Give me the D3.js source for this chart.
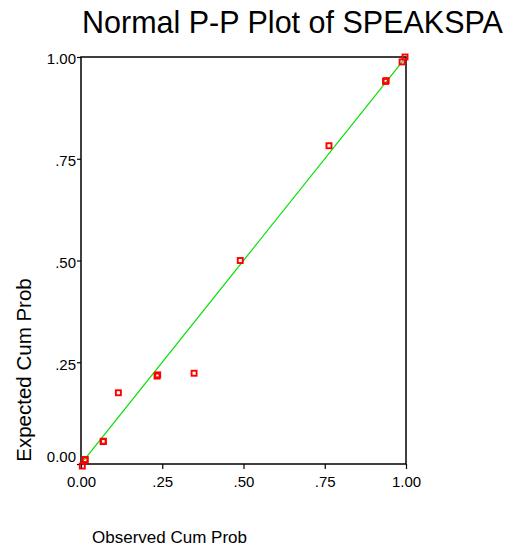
<!DOCTYPE html>
<html>
<head>
<meta charset="utf-8">
<script src="https://cdn.jsdelivr.net/npm/d3@7"></script>
<style>
  body { margin: 0; background: #fff; }
  svg { display: block; font-family: "Liberation Sans", Arial, sans-serif; }
</style>
</head>
<body>
<div id="plot"></div>
<script>
// data
const observed = [0.004, 0.012, 0.013, 0.068, 0.069, 0.115, 0.234, 0.236, 0.348, 0.490, 0.763, 0.937, 0.939, 0.988, 0.997];
const expected = [-0.005, 0.010, 0.011, 0.055, 0.056, 0.175, 0.216, 0.219, 0.223, 0.500, 0.782, 0.940, 0.942, 0.988, 1.000];
const tickValues = [0, 0.25, 0.5, 0.75, 1];
const tickLabels = ["0.00", ".25", ".50", ".75", "1.00"];
const refLine = [0.01, 0.99];

const w = 508;
const h = 548;
const margin = {top: 57, right: 102, bottom: 84, left: 81};
const innerWidth = w - margin.left - margin.right;
const innerHeight = h - margin.top - margin.bottom;

const svg = d3.select("div#plot")
    .append("svg")
    .attr("width", w)
    .attr("height", h);

const xScale = d3.scaleLinear()
    .domain([0, 1])
    .range([0, innerWidth]);

const yScale = d3.scaleLinear()
    .domain([0, 1])
    .range([innerHeight, 0]);

const g = svg.append("g")
    .attr("transform", `translate(${margin.left}, ${margin.top})`);

// frame
g.append("rect")
    .attr("width", innerWidth)
    .attr("height", innerHeight)
    .attr("fill", "none")
    .attr("stroke", "#000")
    .attr("stroke-width", 1.5);

const xAxis = d3.axisBottom(xScale)
    .tickValues(tickValues)
    .tickSize(5)
    .tickPadding(7)
    .tickFormat((d, i) => tickLabels[i]);

const yAxis = d3.axisLeft(yScale)
    .tickValues(tickValues)
    .tickSize(4)
    .tickPadding(1)
    .tickFormat((d, i) => tickLabels[i]);

const gx = g.append("g")
    .attr("transform", `translate(0, ${innerHeight})`)
    .call(xAxis);

const gy = g.append("g")
    .call(yAxis);

[gx, gy].forEach(ax => {
  ax.select(".domain").remove();
  ax.selectAll(".tick line").attr("stroke", "#000").attr("stroke-width", 1.2);
  ax.selectAll(".tick text")
      .attr("fill", "#000")
      .style("font-size", "15px")
      .style("font-family", "'Liberation Sans', Arial, sans-serif");
});

gy.selectAll(".tick text")
    .attr("dy", (d) => d === 0 ? "-0.2em" : "0.45em");

// reference line
g.append("line")
    .attr("x1", xScale(refLine[0]))
    .attr("y1", yScale(refLine[0]))
    .attr("x2", xScale(refLine[1]))
    .attr("y2", yScale(refLine[1]))
    .attr("stroke", "#00e000")
    .attr("stroke-width", 1.2);

// points
const pts = observed.map((d, i) => ({x: d, y: expected[i]}));
g.selectAll("rect.pt")
  .data(pts)
  .enter().append("rect")
    .attr("class", "pt")
    .attr("x", d => xScale(d.x) - 2.5)
    .attr("y", d => yScale(d.y) - 2.5)
    .attr("width", 5)
    .attr("height", 5)
    .attr("fill", "none")
    .attr("stroke", "#ff0000")
    .attr("stroke-width", 1.9);

// title and axis labels
svg.append("text")
    .attr("x", 82)
    .attr("y", 33)
    .style("font-size", "30.5px")
    .attr("fill", "#000")
    .text("Normal P-P Plot of SPEAKSPA");

svg.append("text")
    .attr("x", 92)
    .attr("y", 543)
    .style("font-size", "17px")
    .attr("fill", "#000")
    .text("Observed Cum Prob");

svg.append("text")
    .attr("transform", "translate(31, 370) rotate(-90)")
    .attr("text-anchor", "middle")
    .style("font-size", "20.5px")
    .attr("fill", "#000")
    .text("Expected Cum Prob");
</script>
</body>
</html>
